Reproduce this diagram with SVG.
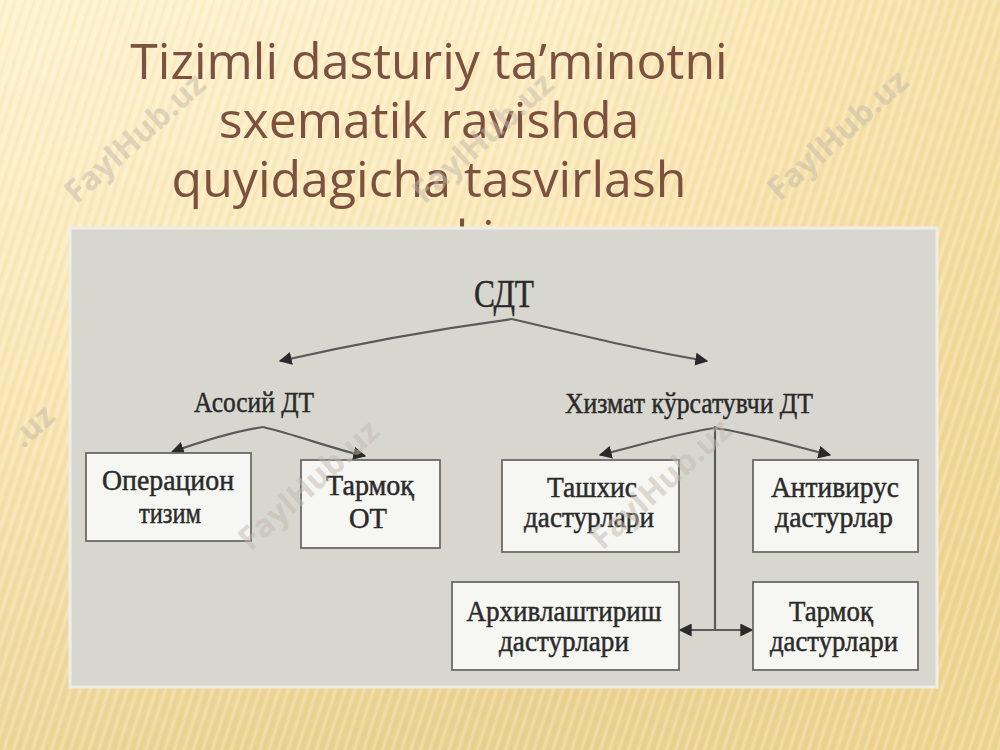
<svg xmlns="http://www.w3.org/2000/svg" width="1000" height="750" viewBox="0 0 1000 750">
  <defs>
    <linearGradient id="bg" x1="0" y1="0" x2="0.35" y2="1">
      <stop offset="0" stop-color="#fef3cf"/>
      <stop offset="0.45" stop-color="#f9e6b4"/>
      <stop offset="1" stop-color="#ead18f"/>
    </linearGradient>
    <linearGradient id="bgR" x1="0" y1="0" x2="1" y2="0">
      <stop offset="0.55" stop-color="#f2d68e" stop-opacity="0"/>
      <stop offset="1" stop-color="#f2d68e" stop-opacity="0.55"/>
    </linearGradient>
    <pattern id="stripes" width="9" height="40" patternUnits="userSpaceOnUse" patternTransform="rotate(18)">
      <rect x="0" y="0" width="3" height="40" fill="#ffffff" opacity="0.22"/>
      <rect x="5" y="0" width="1.5" height="40" fill="#d9b970" opacity="0.12"/>
    </pattern>
    <marker id="ah" viewBox="0 0 10 10" refX="9" refY="5" markerWidth="13" markerHeight="13" markerUnits="userSpaceOnUse" orient="auto-start-reverse">
      <path d="M0,0 L10,5 L0,10 Z" fill="#2a2a2a"/>
    </marker>
    <style>
      .title { font-family: "Open Sans", "Noto Sans", "DejaVu Sans", sans-serif; font-size: 50px; fill: #7d5140; text-anchor: middle; }
      .lbl { font-family: "Liberation Serif", "DejaVu Serif", serif; font-size: 29px; fill: #2a2a2a; stroke: #2a2a2a; stroke-width: 0.5; text-anchor: middle; }
      .box { fill: #f6f6f3; stroke: #6b6b68; stroke-width: 1.8; }
      .conn { fill: none; stroke: #5a5a58; stroke-width: 2.2; }
      .wm { font-family: "Open Sans", "DejaVu Sans", sans-serif; font-weight: bold; font-size: 32px; fill: #c4b9ad; opacity: 0.5; text-anchor: middle; }
    </style>
  </defs>

  <!-- background -->
  <rect x="0" y="0" width="1000" height="750" fill="url(#bg)"/>
  <rect x="0" y="0" width="1000" height="750" fill="url(#bgR)"/>
  <rect x="0" y="0" width="1000" height="750" fill="url(#stripes)"/>

  <!-- title -->
  <g id="title">
    <text class="title"><tspan x="429" y="79">Tizimli dasturiy ta’minotni</tspan><tspan x="429" y="138">sxematik ravishda</tspan><tspan x="429" y="197">quyidagicha tasvirlash</tspan><tspan x="429" y="256">mumkin</tspan></text>
  </g>

  <!-- diagram panel -->
  <rect id="panel" x="70" y="228" width="867" height="459" fill="#d8d7cf" stroke="#efede6" stroke-width="3"/>

  <g id="connectors">
    <path class="conn" d="M512,319 C430,330 350,345 280,361" marker-end="url(#ah)"/>
    <path class="conn" d="M512,319 C580,335 640,350 707,361" marker-end="url(#ah)"/>
    <path class="conn" d="M263,427 C230,432 200,442 172,452" marker-end="url(#ah)"/>
    <path class="conn" d="M263,427 C300,436 330,448 365,456" marker-end="url(#ah)"/>
    <path class="conn" d="M715,428 C680,433 640,445 600,455" marker-end="url(#ah)"/>
    <path class="conn" d="M715,428 C750,433 790,445 830,455" marker-end="url(#ah)"/>
    <path class="conn" d="M715,426 V630"/>
    <path class="conn" d="M680,630 H752" marker-start="url(#ah)" marker-end="url(#ah)"/>
  </g>

  <g id="n-sdt">
    <text class="lbl" x="504" y="307" style="font-size:40px" textLength="60" lengthAdjust="spacingAndGlyphs">СДТ</text>
  </g>
  <g id="n-asosiy">
    <text class="lbl" x="254" y="412" textLength="120" lengthAdjust="spacingAndGlyphs">Асосий ДТ</text>
  </g>
  <g id="n-xizmat">
    <text class="lbl" x="689" y="413" textLength="248" lengthAdjust="spacingAndGlyphs">Хизмат кўрсатувчи ДТ</text>
  </g>
  <g id="n-operatsion">
    <rect class="box" x="86" y="453" width="165" height="88"/>
    <text class="lbl" x="168" y="490" textLength="132" lengthAdjust="spacingAndGlyphs">Операцион</text>
    <text class="lbl" x="170" y="523" textLength="62" lengthAdjust="spacingAndGlyphs">тизим</text>
  </g>
  <g id="n-tarmoq-ot">
    <rect class="box" x="301" y="460" width="139" height="88"/>
    <text class="lbl" x="370" y="495" textLength="88" lengthAdjust="spacingAndGlyphs">Тармоқ</text>
    <text class="lbl" x="368" y="528" textLength="38" lengthAdjust="spacingAndGlyphs">ОТ</text>
  </g>
  <g id="n-tashxis">
    <rect class="box" x="502" y="460" width="177" height="92"/>
    <text class="lbl" x="592" y="497" textLength="90" lengthAdjust="spacingAndGlyphs">Ташхис</text>
    <text class="lbl" x="589" y="527" textLength="130" lengthAdjust="spacingAndGlyphs">дастурлари</text>
  </g>
  <g id="n-antivirus">
    <rect class="box" x="753" y="460" width="165" height="92"/>
    <text class="lbl" x="835" y="497" textLength="128" lengthAdjust="spacingAndGlyphs">Антивирус</text>
    <text class="lbl" x="834" y="527" textLength="118" lengthAdjust="spacingAndGlyphs">дастурлар</text>
  </g>
  <g id="n-arxiv">
    <rect class="box" x="452" y="582" width="227" height="88"/>
    <text class="lbl" x="564" y="621" textLength="195" lengthAdjust="spacingAndGlyphs">Архивлаштириш</text>
    <text class="lbl" x="564" y="651" textLength="130" lengthAdjust="spacingAndGlyphs">дастурлари</text>
  </g>
  <g id="n-tarmoq-dast">
    <rect class="box" x="753" y="582" width="165" height="88"/>
    <text class="lbl" x="831" y="621" textLength="84" lengthAdjust="spacingAndGlyphs">Тармоқ</text>
    <text class="lbl" x="834" y="651" textLength="128" lengthAdjust="spacingAndGlyphs">дастурлари</text>
  </g>

  <!-- watermarks -->
  <g id="watermarks">
    <text class="wm" transform="translate(142,146) rotate(-42)">FaylHub.uz</text>
    <text class="wm" transform="translate(490,146) rotate(-42)">FaylHub.uz</text>
    <text class="wm" transform="translate(845,143) rotate(-42)">FaylHub.uz</text>
    <text class="wm" transform="translate(40,434) rotate(-42)">.uz</text>
    <text class="wm" transform="translate(316,493) rotate(-42)">FaylHub.uz</text>
    <text class="wm" transform="translate(668,492) rotate(-42)">FaylHub.uz</text>
  </g>
</svg>
